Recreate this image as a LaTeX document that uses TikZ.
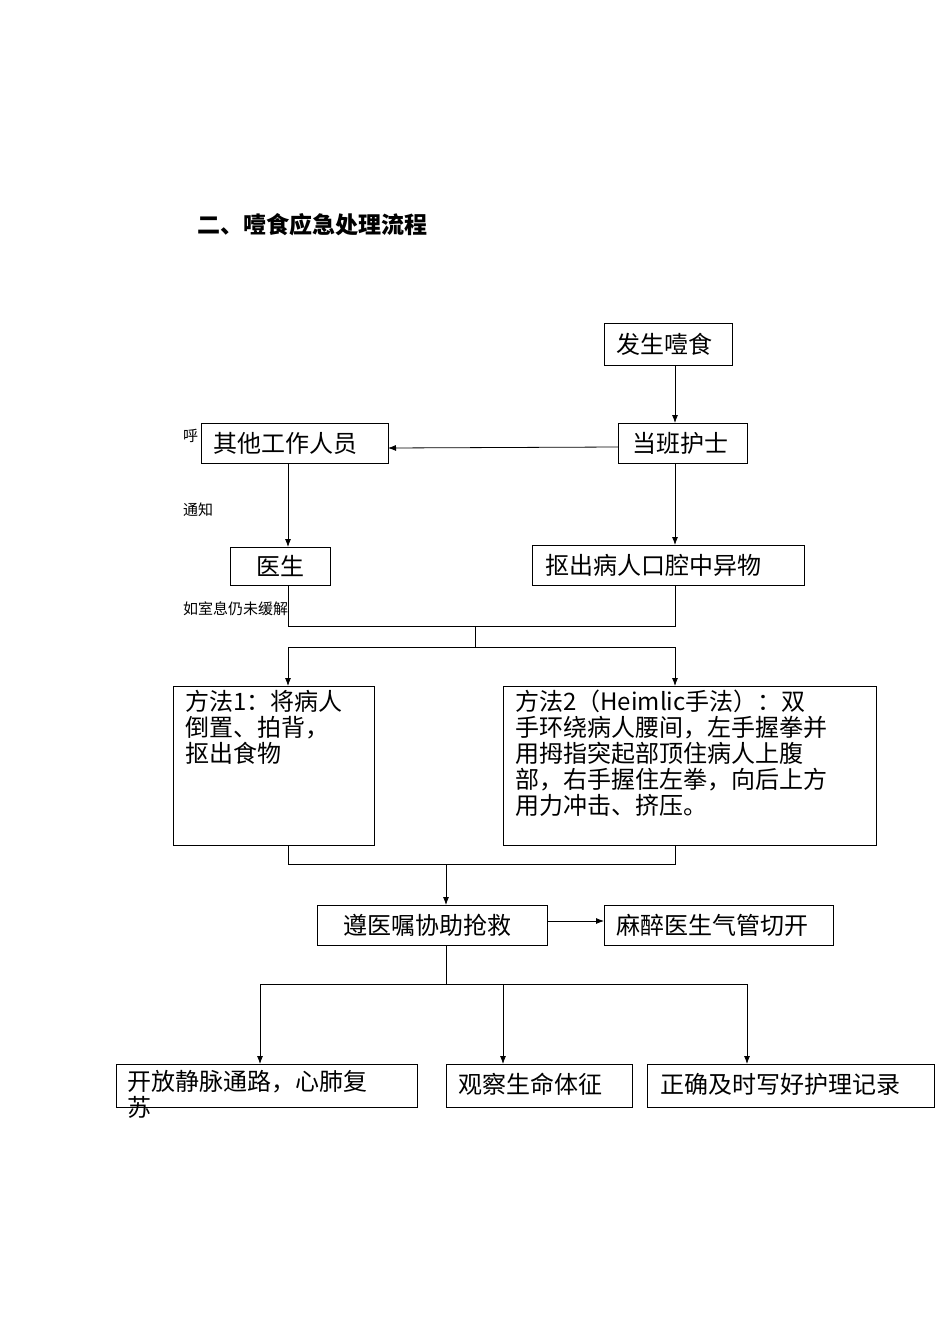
\documentclass[tikz,border=0pt]{standalone}
\usepackage{fontspec}
\setmainfont{Noto Sans CJK SC}
\usetikzlibrary{arrows.meta}
\begin{document}
\begin{tikzpicture}[x=1pt,y=-1pt,
 bx/.style={draw,line width=0.8pt,fill=white,inner sep=0pt},
 ar/.style={-{Latex[length=8pt,width=6pt]},line width=0.8pt},
 ln/.style={line width=0.8pt},
 tx/.style={font=\fontsize{24}{28}\selectfont,anchor=west,inner sep=0pt},
 ml/.style={anchor=north west,align=left,font=\fontsize{24}{26}\selectfont,inner sep=0pt},
 sm/.style={font=\fontsize{15}{18}\selectfont,anchor=west,inner sep=0pt}]
\useasboundingbox (0,0) rectangle (950,1344);
\node[anchor=west,font=\bfseries\fontsize{23}{26}\selectfont] (title) at (194,225) {二、噎食应急处理流程};
\node[sm] (hu) at (183,436) {呼\hspace{8pt}叫};
\node[sm] (tz) at (183,510) {通知};
\node[sm] (rz) at (183,609) {如室息仍未缓解};
\draw[bx] (604,323) rectangle (732,365); \node[tx] (a) at (616,344) {发生噎食};
\draw[bx] (618,423) rectangle (747,463); \node[tx] (b) at (632,443) {当班护士};
\draw[bx] (201,423) rectangle (388,463); \node[tx] (c) at (213,443) {其他工作人员};
\draw[bx] (230,547) rectangle (330,585); \node[tx] (d) at (256,566) {医生};
\draw[bx] (532,545) rectangle (804,585); \node[tx] (e) at (545,565) {抠出病人口腔中异物};
\draw[bx] (173,686) rectangle (374,845);
\node[ml] (f) at (185,690) {方法1：将病人\\倒置、拍背，\\抠出食物};
\draw[bx] (503,686) rectangle (876,845);
\node[ml] (g) at (515,690) {方法2（Heimlic手法）：双\\手环绕病人腰间，左手握拳并\\用拇指突起部顶住病人上腹\\部，右手握住左拳，向后上方\\用力冲击、挤压。};
\draw[bx] (317,905) rectangle (547,945); \node[tx] (h) at (343,925) {遵医嘱协助抢救};
\draw[bx] (604,905) rectangle (833,945); \node[tx] (i) at (616,925) {麻醉医生气管切开};
\draw[bx] (116,1064) rectangle (417,1107);
\node[ml] (j) at (127,1070) {开放静脉通路，心肺复\\苏};
\draw[bx] (446,1064) rectangle (632,1107); \node[tx] (k) at (458,1084) {观察生命体征};
\draw[bx] (647,1064) rectangle (934,1107); \node[tx] (l) at (660,1084) {正确及时写好护理记录};
\draw[ar] (675,365) -- (675,423);
\draw[ar] (618,447) -- (388,448);
\draw[ar] (288,463) -- (288,547);
\draw[ar] (675,463) -- (675,545);
\draw[ln] (288,585) -- (288,626) -- (675,626) -- (675,585);
\draw[ln] (475,626) -- (475,647);
\draw[ar] (288,647) -- (288,686);
\draw[ar] (675,647) -- (675,686);
\draw[ln] (288,647) -- (675,647);
\draw[ln] (288,845) -- (288,864) -- (675,864) -- (675,845);
\draw[ar] (446,864) -- (446,905);
\draw[ar] (547,921) -- (604,921);
\draw[ln] (446,945) -- (446,984);
\draw[ln] (260,984) -- (747,984);
\draw[ar] (260,984) -- (260,1064);
\draw[ar] (503,984) -- (503,1064);
\draw[ar] (747,984) -- (747,1064);
\end{tikzpicture}
\end{document}
